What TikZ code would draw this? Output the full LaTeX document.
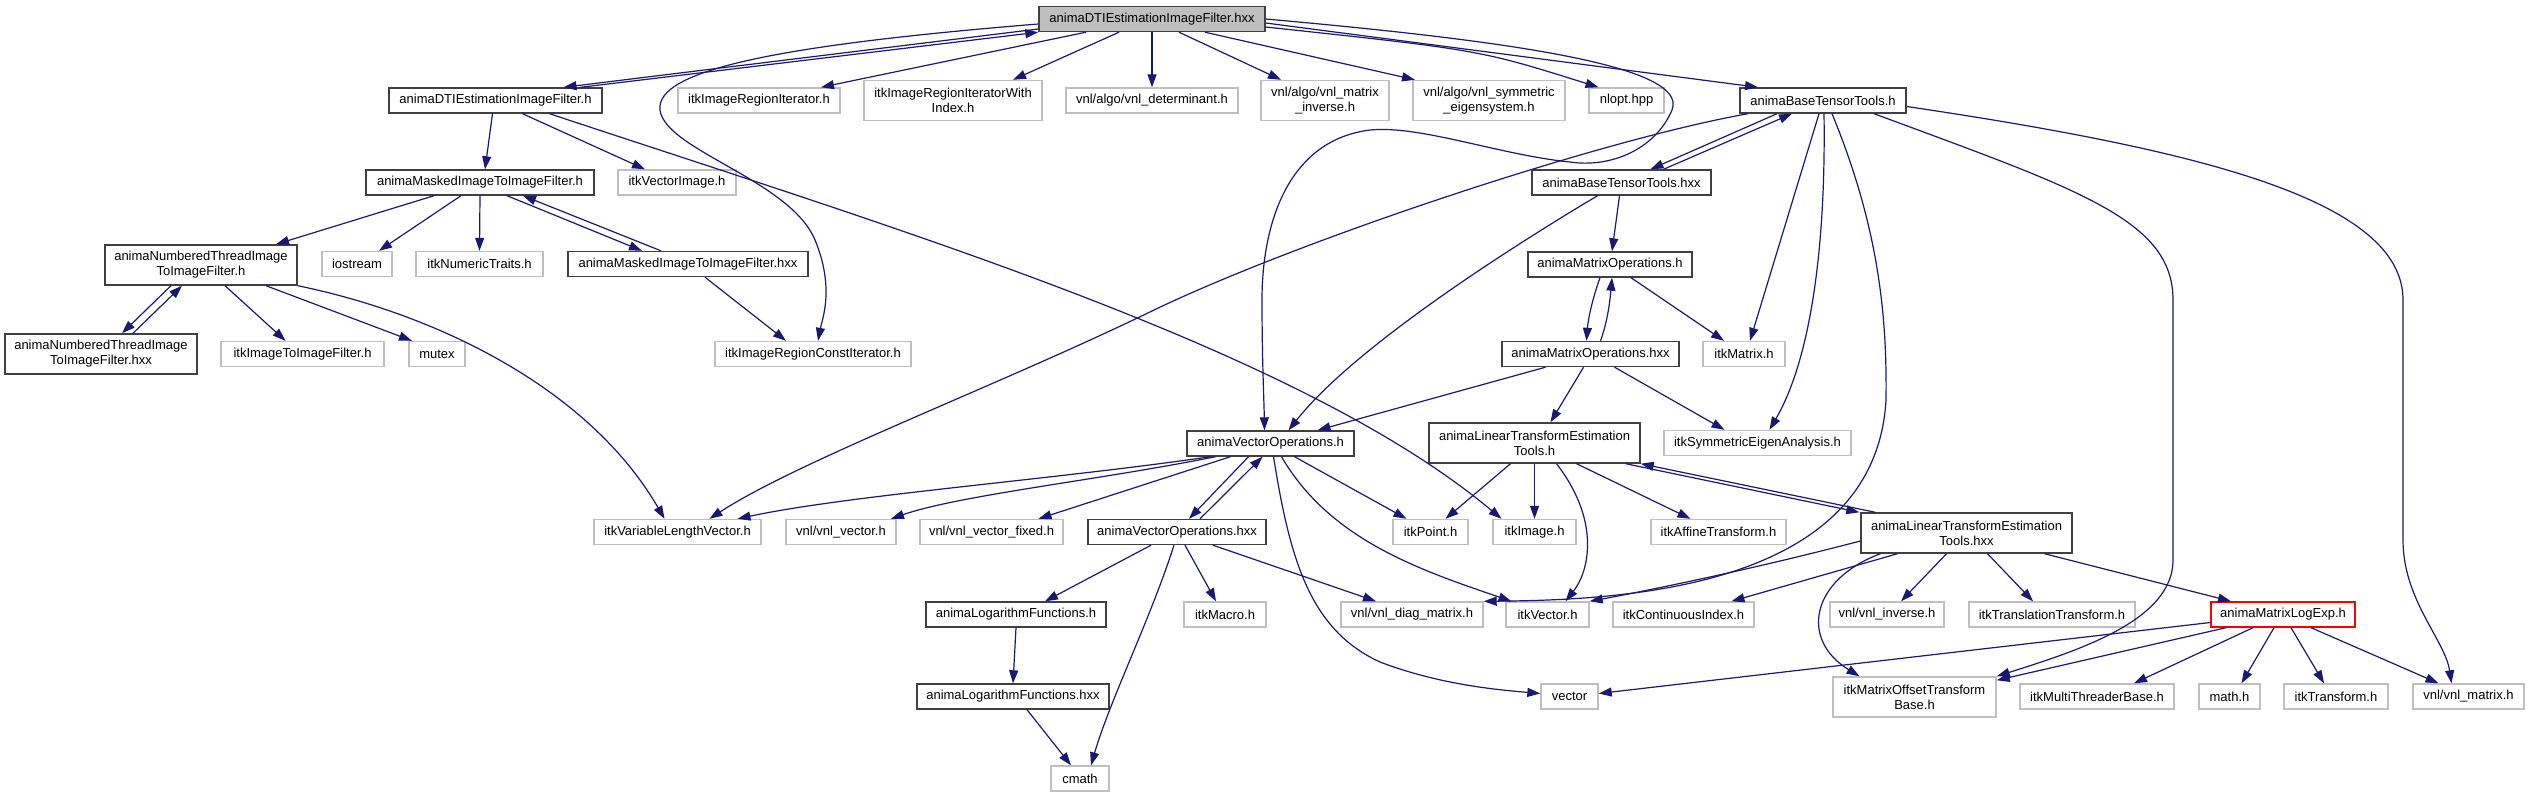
\documentclass[tikz,border=0pt]{standalone}
\usepackage{fontspec}
\setmainfont{Liberation Sans}
\usetikzlibrary{arrows.meta}
\definecolor{navyedge}{HTML}{191970}
\definecolor{boxgray}{HTML}{BFBFBF}
\definecolor{boxdark}{HTML}{404040}
\begin{document}
\begin{tikzpicture}[x=1pt, y=-1pt, >={Triangle[length=13pt,width=9pt]},
    proj/.style={draw=boxdark, line width=1.4pt, fill=white, inner sep=0pt,
        minimum height=25pt, align=center, font=\fontsize{13}{15}\selectfont},
    ext/.style={proj, draw=boxgray},
    tall/.style={minimum height=40pt},
    edge/.style={->, draw=navyedge, line width=1.2pt}]
    \useasboundingbox (0,0) rectangle (2529,797);

    % top row
    \node[proj, fill=boxgray, minimum width=226pt] (dtihxx) at (1152,19) {animaDTIEstimationImageFilter.hxx};
    \node[proj, minimum width=213pt] (dtih) at (495.5,100.5) {animaDTIEstimationImageFilter.h};
    \node[ext, minimum width=162pt] (regit) at (759,100.5) {itkImageRegionIterator.h};
    \node[ext, tall, minimum width=178pt] (regitidx) at (953,100.5) {itkImageRegionIteratorWith\\Index.h};
    \node[ext, minimum width=172pt] (vnldet) at (1152,100.5) {vnl/algo/vnl\_determinant.h};
    \node[ext, tall, minimum width=128pt] (vnlmatinv) at (1325,100.5) {vnl/algo/vnl\_matrix\\\_inverse.h};
    \node[ext, tall, minimum width=152pt] (vnlsymeig) at (1489,100.5) {vnl/algo/vnl\_symmetric\\\_eigensystem.h};
    \node[ext, minimum width=75pt] (nlopt) at (1626.5,100.5) {nlopt.hpp};
    \node[proj, minimum width=166pt] (btth) at (1823,100.5) {animaBaseTensorTools.h};

    \node[proj, minimum width=228pt] (maskh) at (480,182.5) {animaMaskedImageToImageFilter.h};
    \node[ext, minimum width=118pt] (vecimg) at (677,182.5) {itkVectorImage.h};
    \node[proj, minimum width=179pt] (btthxx) at (1621.5,182.5) {animaBaseTensorTools.hxx};

    \node[proj, tall, minimum width=192pt] (ntth) at (201,265) {animaNumberedThreadImage\\ToImageFilter.h};
    \node[ext, minimum width=70pt] (iostream) at (357,264) {iostream};
    \node[ext, minimum width=127pt] (numtraits) at (479.5,264) {itkNumericTraits.h};
    \node[proj, minimum width=240pt] (maskhxx) at (688,264) {animaMaskedImageToImageFilter.hxx};
    \node[proj, minimum width=164pt] (matoph) at (1610,264.5) {animaMatrixOperations.h};

    \node[proj, tall, minimum width=192pt] (ntthxx) at (101,354) {animaNumberedThreadImage\\ToImageFilter.hxx};
    \node[ext, minimum width=163pt] (imgfilt) at (302.5,354) {itkImageToImageFilter.h};
    \node[ext, minimum width=56pt] (mutex) at (437,354) {mutex};
    \node[ext, minimum width=196pt] (regconstit) at (813,354) {itkImageRegionConstIterator.h};
    \node[proj, minimum width=177pt] (matophxx) at (1590.5,354) {animaMatrixOperations.hxx};
    \node[ext, minimum width=82pt] (itkmatrix) at (1744,354) {itkMatrix.h};

    \node[proj, minimum width=167pt] (vecoph) at (1270.5,443.5) {animaVectorOperations.h};
    \node[proj, tall, minimum width=211pt] (ltth) at (1534.5,443) {animaLinearTransformEstimation\\Tools.h};
    \node[ext, minimum width=187pt] (symeig) at (1757.5,443) {itkSymmetricEigenAnalysis.h};

    \node[ext, minimum width=167pt] (varlen) at (677.5,532) {itkVariableLengthVector.h};
    \node[ext, minimum width=110pt] (vnlvec) at (841,532) {vnl/vnl\_vector.h};
    \node[ext, minimum width=143pt] (vnlvecfix) at (991.5,532) {vnl/vnl\_vector\_fixed.h};
    \node[proj, minimum width=178pt] (vecophxx) at (1177,532) {animaVectorOperations.hxx};
    \node[ext, minimum width=75pt] (itkpoint) at (1430.5,532) {itkPoint.h};
    \node[ext, minimum width=83pt] (itkimage) at (1534.5,532) {itkImage.h};
    \node[ext, minimum width=135pt] (affine) at (1718.5,532) {itkAffineTransform.h};
    \node[proj, tall, minimum width=211pt] (ltthxx) at (1966.5,533) {animaLinearTransformEstimation\\Tools.hxx};

    \node[proj, minimum width=180pt] (logh) at (1016,614.5) {animaLogarithmFunctions.h};
    \node[ext, minimum width=82pt] (itkmacro) at (1225,614.5) {itkMacro.h};
    \node[ext, minimum width=142pt] (diagmat) at (1412,614.5) {vnl/vnl\_diag\_matrix.h};
    \node[ext, minimum width=83pt] (itkvector) at (1547.5,614.5) {itkVector.h};
    \node[ext, minimum width=141pt] (contidx) at (1683.5,614.5) {itkContinuousIndex.h};
    \node[ext, minimum width=114pt] (vnlinv) at (1887,614.5) {vnl/vnl\_inverse.h};
    \node[ext, minimum width=166pt] (transl) at (2052,614.5) {itkTranslationTransform.h};
    \node[proj, draw=red, minimum width=144pt] (logexp) at (2283,614.5) {animaMatrixLogExp.h};

    \node[proj, minimum width=192pt] (loghxx) at (1013,696.5) {animaLogarithmFunctions.hxx};
    \node[ext, minimum width=57pt] (stdvector) at (1569.5,696.5) {vector};
    \node[ext, tall, minimum width=163pt] (offsetbase) at (1914.5,697) {itkMatrixOffsetTransform\\Base.h};
    \node[ext, minimum width=154pt] (threader) at (2097,696.5) {itkMultiThreaderBase.h};
    \node[ext, minimum width=61pt] (mathh) at (2229.5,696.5) {math.h};
    \node[ext, minimum width=104pt] (itktransform) at (2336,696.5) {itkTransform.h};
    \node[ext, minimum width=111pt] (vnlmatrix) at (2468.5,696.5) {vnl/vnl\_matrix.h};
    \node[ext, minimum width=58pt] (cmath) at (1080,778.5) {cmath};

    % includes of the top file
    \draw[edge] ([yshift=-10pt]dtihxx.west) -- ([xshift=68pt]dtih.north);
    \draw[edge] ([xshift=85pt]dtih.north) -- (dtihxx.south west);
    \draw[edge] ([xshift=-66pt]dtihxx.south) -- ([xshift=62pt]regit.north);
    \draw[edge] ([xshift=-33pt]dtihxx.south) -- ([xshift=60pt]regitidx.north);
    \draw[edge] (dtihxx.south) -- (vnldet.north);
    \draw[edge] ([xshift=27pt]dtihxx.south) -- ([xshift=-44pt]vnlmatinv.north);
    \draw[edge] ([xshift=53pt]dtihxx.south) -- ([xshift=-74pt]vnlsymeig.north);
    \draw[edge] ([yshift=-8pt]dtihxx.east) .. controls (1480,50) .. ([xshift=-28pt]nlopt.north);
    \draw[edge] ([yshift=-4pt]dtihxx.east) -- ([xshift=-65pt]btth.north);
    \draw[edge] ([yshift=-5pt]dtihxx.west) .. controls (780,45) and (655,70) .. (660,110)
        .. controls (665,150) and (790,180) .. (815,240)
        .. controls (835,288) and (822,320) .. ([xshift=5pt]regconstit.north);
    \draw[edge] (dtihxx.east) .. controls (1500,40) and (1690,65) .. (1672,110)
        .. controls (1655,150) and (1610,168) .. (1570,162)
        .. controls (1500,155) and (1420,125) .. (1370,130)
        .. controls (1290,140) and (1262,220) .. (1262,300)
        .. controls (1262,360) and (1264,400) .. ([xshift=-6pt]vecoph.north);

    % left part
    \draw[edge] ([xshift=-3pt]dtih.south) -- ([xshift=5pt]maskh.north);
    \draw[edge] ([xshift=27pt]dtih.south) -- ([xshift=-32pt]vecimg.north);
    \draw[edge] ([xshift=54pt]dtih.south) .. controls (900,230) and (1300,350) .. ([xshift=-33pt]itkimage.north);
    \draw[edge] ([xshift=-46pt]maskh.south) -- ([xshift=75pt]ntth.north);
    \draw[edge] ([xshift=-19pt]maskh.south) -- ([xshift=22pt]iostream.north);
    \draw[edge] (maskh.south) -- (numtraits.north);
    \draw[edge] ([xshift=27pt]maskh.south) -- ([xshift=-46pt]maskhxx.north);
    \draw[edge] ([xshift=-27pt]maskhxx.north) -- ([xshift=43pt]maskh.south);
    \draw[edge] ([xshift=17pt]maskhxx.south) -- ([xshift=-27pt]regconstit.north);
    \draw[edge] ([xshift=-30pt]ntth.south) -- ([xshift=21pt]ntthxx.north);
    \draw[edge] ([xshift=32pt]ntthxx.north) -- ([xshift=-19pt]ntth.south);
    \draw[edge] ([xshift=24pt]ntth.south) -- ([xshift=-17pt]imgfilt.north);
    \draw[edge] ([xshift=65pt]ntth.south) -- ([xshift=-25pt]mutex.north);
    \draw[edge] (ntth.south east) .. controls (440,315) and (590,390) .. ([xshift=-13pt]varlen.north);

    % base tensor tools
    \draw[edge] ([xshift=-46pt]btth.south) -- ([xshift=29pt]btthxx.north);
    \draw[edge] ([xshift=42pt]btthxx.north) -- ([xshift=-31pt]btth.south);
    \draw[edge] ([xshift=-75pt]btth.south) .. controls (1600,140) and (1300,240) .. (1154,310)
        .. controls (1000,385) and (800,460) .. ([xshift=32pt]varlen.north);
    \draw[edge] ([xshift=-4pt]btth.south) -- ([xshift=6pt]itkmatrix.north);
    \draw[edge] ([xshift=1pt]btth.south) .. controls (1826,250) and (1810,360) .. ([xshift=12pt]symeig.north);
    \draw[edge] ([xshift=9pt]btth.south) .. controls (1880,230) and (1887,320) .. (1886,400)
        .. controls (1875,590) and (1620,600) .. (diagmat.north east);
    \draw[edge] ([xshift=51pt]btth.south) .. controls (2080,190) and (2173,220) .. (2173,300)
        -- (2173,560) .. controls (2173,620) and (2080,650) .. (offsetbase.north east);
    \draw[edge] ([yshift=-6pt]btth.east) .. controls (2200,150) and (2403,200) .. (2403,300)
        -- (2403,540) .. controls (2403,600) and (2445,640) .. ([xshift=-17pt]vnlmatrix.north);
    \draw[edge] ([xshift=-2pt]btthxx.south) -- ([xshift=2pt]matoph.north);
    \draw[edge] ([xshift=-24pt]btthxx.south) .. controls (1540,230) and (1360,340) .. ([xshift=18pt]vecoph.north);

    % matrix operations
    \draw[edge] ([xshift=-10pt]matoph.south) .. controls (1592,300) and (1588,320) .. ([xshift=-4pt]matophxx.north);
    \draw[edge] ([xshift=10pt]matophxx.north) .. controls (1608,320) and (1610,300) .. ([xshift=2pt]matoph.south);
    \draw[edge] ([xshift=21pt]matoph.south) -- ([xshift=-20pt]itkmatrix.north);
    \draw[edge] ([xshift=-45pt]matophxx.south) -- ([xshift=47pt]vecoph.north);
    \draw[edge] ([xshift=-7pt]matophxx.south) -- ([xshift=16pt]ltth.north);
    \draw[edge] ([xshift=24pt]matophxx.south) -- ([xshift=-33pt]symeig.north);

    % vector operations
    \draw[edge] ([xshift=-60pt]vecoph.south) .. controls (1050,480) and (850,495) .. ([xshift=60pt]varlen.north);
    \draw[edge] ([xshift=-55pt]vecoph.south) .. controls (1100,480) and (960,495) .. ([xshift=50pt]vnlvec.north);
    \draw[edge] ([xshift=-40pt]vecoph.south) -- ([xshift=47pt]vnlvecfix.north);
    \draw[edge] ([xshift=-22pt]vecoph.south) -- ([xshift=12pt]vecophxx.north);
    \draw[edge] ([xshift=23pt]vecophxx.north) -- ([xshift=-8pt]vecoph.south);
    \draw[edge] ([xshift=24pt]vecoph.south) -- ([xshift=-24pt]itkpoint.north);
    \draw[edge] ([xshift=11pt]vecoph.south) .. controls (1330,540) and (1420,570) .. ([xshift=-36pt]itkvector.north);
    \draw[edge] ([xshift=3pt]vecoph.south) .. controls (1290,560) and (1310,630) .. (1380,662)
        .. controls (1440,685) and (1500,690) .. ([yshift=3pt]stdvector.west);
    \draw[edge] ([xshift=-26pt]vecophxx.south) -- ([xshift=29pt]logh.north);
    \draw[edge] ([xshift=-3pt]vecophxx.south) .. controls (1150,620) and (1110,700) .. ([xshift=11pt]cmath.north);
    \draw[edge] ([xshift=8pt]vecophxx.south) -- ([xshift=-9pt]itkmacro.north);
    \draw[edge] ([xshift=36pt]vecophxx.south) -- ([xshift=-36pt]diagmat.north);
    \draw[edge] (logh.south) -- (loghxx.north);
    \draw[edge] ([xshift=14pt]loghxx.south) -- ([xshift=-9pt]cmath.north);

    % linear transform estimation
    \draw[edge] ([xshift=-24pt]ltth.south) -- ([xshift=15pt]itkpoint.north);
    \draw[edge] (ltth.south) -- (itkimage.north);
    \draw[edge] ([xshift=22pt]ltth.south) .. controls (1600,520) and (1590,570) .. ([xshift=18pt]itkvector.north);
    \draw[edge] ([xshift=42pt]ltth.south) -- ([xshift=-28pt]affine.north);
    \draw[edge] ([xshift=-15pt]ltth.south east) -- ([xshift=-1pt]ltthxx.north west);
    \draw[edge] ([xshift=15pt]ltthxx.north west) -- (ltth.south east);
    \draw[edge] ([yshift=-8pt]ltthxx.west) .. controls (1750,570) and (1640,592) .. (itkvector.north east);
    \draw[edge] ([xshift=-69pt]ltthxx.south) -- ([xshift=48pt]contidx.north);
    \draw[edge] ([xshift=-86pt]ltthxx.south) .. controls (1810,580) and (1800,640) .. ([xshift=-55pt]offsetbase.north);
    \draw[edge] ([xshift=-20pt]ltthxx.south) -- ([xshift=14pt]vnlinv.north);
    \draw[edge] ([xshift=21pt]ltthxx.south) -- ([xshift=-19pt]transl.north);
    \draw[edge] ([xshift=78pt]ltthxx.south) -- ([xshift=-52pt]logexp.north);

    % matrix log exp
    \draw[edge] ([yshift=-8pt]logexp.west) -- ([yshift=3pt]stdvector.east);
    \draw[edge] ([xshift=-57pt]logexp.south) -- ([yshift=-4pt]offsetbase.north east);
    \draw[edge] ([xshift=-30pt]logexp.south) -- ([xshift=37pt]threader.north);
    \draw[edge] ([xshift=-9pt]logexp.south) -- ([xshift=12pt]mathh.north);
    \draw[edge] ([xshift=8pt]logexp.south) -- ([xshift=-12pt]itktransform.north);
    \draw[edge] ([xshift=28pt]logexp.south) -- ([xshift=-30pt]vnlmatrix.north);
\end{tikzpicture}
\end{document}
